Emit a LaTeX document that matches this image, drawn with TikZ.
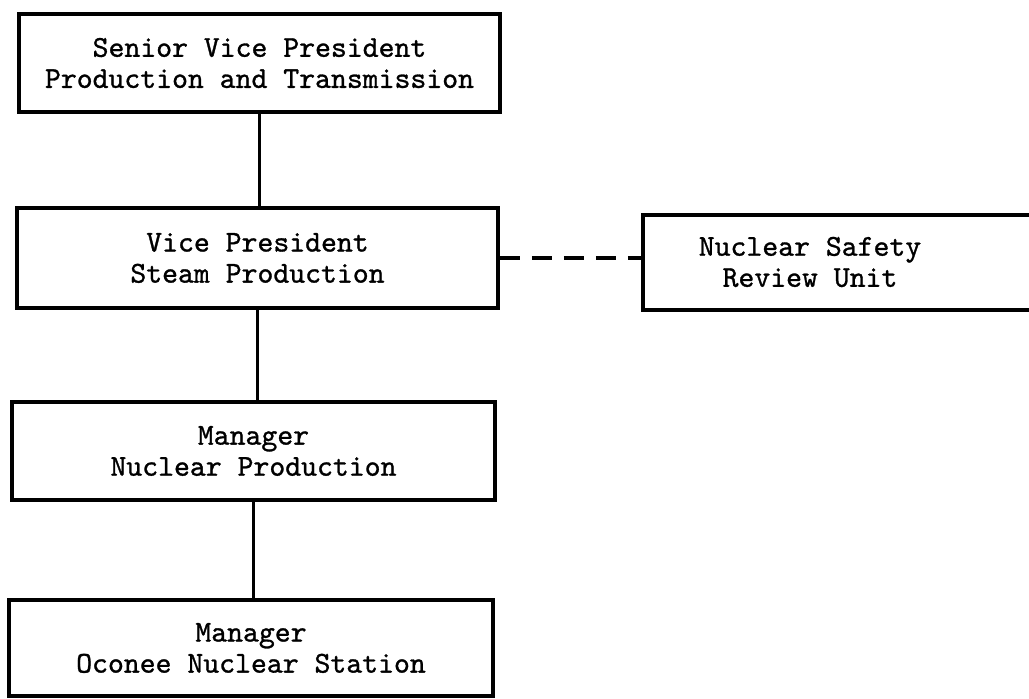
\documentclass[tikz,border=0pt]{standalone}
\usepackage{fontspec}
\newfontfamily\typewriter{lmmono10-regular.otf}[FakeBold=1]
\begin{document}
\begin{tikzpicture}[x=0.75pt,y=-0.75pt,
  orgbox/.style={draw=black, line width=2.8pt, rectangle, inner sep=0pt, align=center,
    font=\typewriter\fontsize{22.7pt}{23.3pt}\selectfont},
  lbl/.style={inner sep=0pt, align=center, font=\typewriter\fontsize{22.7pt}{23.3pt}\selectfont},
  link/.style={draw=black, line width=2.5pt},
  dotlink/.style={draw=black, line width=2.8pt, dash pattern=on 15pt off 9pt}]
\useasboundingbox (0,0) rectangle (1029,699);
\node[orgbox, minimum width=360.75pt, minimum height=73.5pt] (svp) at (259.5,63)
  {Senior Vice President\\Production and Transmission};
\node[orgbox, minimum width=360.75pt, minimum height=75pt] (vp) at (257.5,258)
  {Vice President\\Steam Production};
\node[orgbox, minimum width=362.25pt, minimum height=73.5pt] (mnp) at (253.5,451)
  {Manager\\Nuclear Production};
\node[orgbox, minimum width=363pt, minimum height=72pt] (mons) at (251,648)
  {Manager\\Oconee Nuclear Station};
\node[orgbox, minimum width=300pt, minimum height=71.25pt] (nsru) at (843,262.5) {};
\node[lbl] (nsrut) at (810,262) {Nuclear Safety\\Review Unit};
\draw[link] (svp.south) -- (svp.south |- vp.north);
\draw[link] (vp.south) -- (vp.south |- mnp.north);
\draw[link] (mnp.south) -- (mnp.south |- mons.north);
\draw[dotlink] (vp.east) -- (vp.east -| nsru.west);
\end{tikzpicture}
\end{document}
